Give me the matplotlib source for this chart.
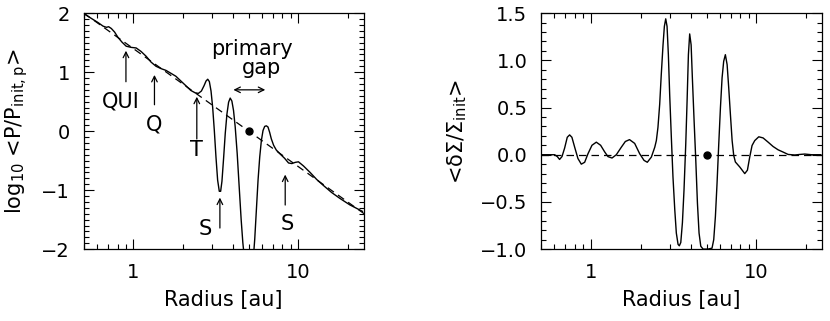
import matplotlib
matplotlib.use('Agg')
import matplotlib.pyplot as plt
from matplotlib.ticker import LogLocator, FixedLocator, MultipleLocator, FuncFormatter

# Left panel: azimuthally averaged pressure (log10)
r_p = [0.507, 0.556, 0.610, 0.654, 0.685, 0.707, 0.734, 0.768, 0.805, 0.851,
       0.903, 0.968, 1.038, 1.112, 1.192, 1.278, 1.369, 1.468, 1.573, 1.687,
       1.807, 1.937, 2.077, 2.225, 2.363, 2.475, 2.580, 2.677, 2.753, 2.818,
       2.883, 2.951, 3.020, 3.090, 3.162, 3.236, 3.312, 3.375, 3.437, 3.517,
       3.599, 3.685, 3.771, 3.857, 3.948, 4.040, 4.136, 4.252, 4.371, 4.494,
       4.600, 4.665, 4.795, 5.05, 5.26, 5.356, 5.432, 5.559, 5.689, 5.823,
       5.958, 6.097, 6.240, 6.386, 6.535, 6.688, 6.844, 7.07, 7.336, 7.757,
       8.236, 8.708, 9.118, 9.548, 10.0, 10.72, 11.76, 12.90, 14.15, 15.88,
       17.82, 20.48, 24.41]
logP = [1.98, 1.91, 1.84, 1.78, 1.76, 1.77, 1.74, 1.68, 1.59, 1.51,
        1.44, 1.42, 1.41, 1.35, 1.27, 1.17, 1.10, 1.06, 1.03, 0.98,
        0.93, 0.85, 0.77, 0.69, 0.65, 0.64, 0.68, 0.77, 0.85, 0.88,
        0.84, 0.68, 0.40, 0.01, -0.44, -0.83, -1.02, -1.02, -0.85, -0.46,
        -0.04, 0.29, 0.49, 0.56, 0.51, 0.35, 0.07, -0.38, -0.94, -1.50,
        -1.89, -2.06, -2.56, -3.0, -2.56, -2.06, -1.83, -1.33, -0.83, -0.44,
        -0.16, 0.01, 0.08, 0.09, 0.07, -0.02, -0.13, -0.24, -0.32, -0.39,
        -0.46, -0.54, -0.55, -0.53, -0.52, -0.59, -0.70, -0.82, -0.92, -1.04,
        -1.14, -1.25, -1.36]
# initial pressure profile (dashed), two end points
r_init = [0.5, 25.0]
logP_init = [2.0, -1.40]

# Right panel: surface density perturbation
r_s = [0.50, 0.603, 0.626, 0.646, 0.668, 0.693, 0.719, 0.743, 0.767, 0.797,
       0.834, 0.874, 0.916, 0.959, 1.014, 1.077, 1.144, 1.21, 1.267, 1.34,
       1.423, 1.526, 1.613, 1.71, 1.837, 1.97, 2.093, 2.19, 2.317, 2.43,
       2.484, 2.54, 2.602, 2.66, 2.726, 2.777, 2.83, 2.883, 2.936, 2.99,
       3.06, 3.13, 3.21, 3.28, 3.36, 3.42, 3.49, 3.57, 3.65, 3.74,
       3.81, 3.88, 3.95, 4.03, 4.10, 4.20, 4.30, 4.40, 4.50, 4.61,
       4.76, 5.10, 5.39, 5.52, 5.65, 5.78, 5.92, 6.06, 6.20, 6.34,
       6.49, 6.65, 6.80, 6.96, 7.13, 7.29, 7.46, 7.93, 8.50, 8.82,
       9.11, 9.41, 9.77, 10.33, 10.97, 11.77, 12.61, 13.52, 14.50, 15.54,
       17.06, 18.29, 19.60, 21.51, 24.5]
dsig = [0.00, 0.00, -0.02, -0.05, -0.02, 0.07, 0.185, 0.21, 0.185, 0.08,
        -0.04, -0.10, -0.08, 0.01, 0.10, 0.133, 0.10, 0.03, -0.02, -0.035,
        0.00, 0.08, 0.14, 0.16, 0.12, 0.01, -0.06, -0.08, -0.025, 0.08,
        0.15, 0.29, 0.535, 0.85, 1.164, 1.36, 1.44, 1.36, 1.06, 0.64,
        0.185, -0.234, -0.584, -0.83, -0.95, -0.965, -0.93, -0.72, -0.374, 0.115,
        0.57, 1.06, 1.28, 1.164, 0.815, 0.36, -0.06, -0.514, -0.83, -0.97,
        -1.00, -1.00, -0.99, -0.90, -0.654, -0.304, 0.115, 0.50, 0.815, 0.99,
        1.06, 0.955, 0.71, 0.43, 0.15, -0.007, -0.077, -0.13, -0.20, -0.164,
        -0.024, 0.098, 0.15, 0.19, 0.178, 0.133, 0.087, 0.052, 0.028, 0.003,
        -0.003, 0.003, 0.007, 0.00, 0.00]

r_planet = 5.0

fig = plt.figure(figsize=(8.3, 3.21), dpi=100)
ax1 = fig.add_axes([0.101, 0.224, 0.337, 0.735])
ax2 = fig.add_axes([0.652, 0.224, 0.338, 0.735])

fmt = FuncFormatter(lambda v, p: '%g' % v)
for ax in (ax1, ax2):
    ax.set_xscale('log')
    ax.set_xlim(0.5, 24.8)
    ax.xaxis.set_major_locator(FixedLocator([1, 10]))
    ax.xaxis.set_major_formatter(fmt)
    ax.xaxis.set_minor_locator(LogLocator(base=10, subs=range(2, 10)))
    ax.xaxis.set_minor_formatter(FuncFormatter(lambda v, p: ''))
    ax.tick_params(which='both', direction='in', top=True, right=True,
                   labelsize=14, width=0.8)
    ax.tick_params(which='major', length=7, pad=10)
    ax.tick_params(which='minor', length=3.5)
    for s in ax.spines.values():
        s.set_linewidth(0.9)
    ax.set_xlabel('Radius [au]', fontsize=15, labelpad=6)

# left panel
ax1.plot(r_init, logP_init, color='black', lw=0.9, ls=(0, (6, 4)))
ax1.plot(r_p, logP, color='black', lw=1.0)
ax1.plot([r_planet], [0], 'o', color='black', ms=5)
ax1.set_ylim(-2, 2)
ax1.yaxis.set_major_locator(MultipleLocator(1))
ax1.yaxis.set_minor_locator(MultipleLocator(0.1))
ax1.set_ylabel(r'log$_{10}$ <P/P$_{\rm init,p}$>', fontsize=15, labelpad=8)

arr = dict(arrowstyle='->', color='black', lw=0.9, mutation_scale=10)
marks = [('QUI', 0.90, 1.41, 0.79, 0.84, 0.51),
         ('Q', 1.34, 1.00, 0.40, 1.34, 0.12),
         ('T', 2.42, 0.63, -0.18, 2.42, -0.32),
         ('S', 3.34, -1.08, -1.69, 2.74, -1.66),
         ('S', 8.31, -0.69, -1.30, 8.5, -1.58)]
for lab, xa, ytop, ybot, xt, yt in marks:
    ax1.annotate('', xy=(xa, ytop), xytext=(xa, ybot), arrowprops=arr)
    ax1.text(xt, yt, lab, fontsize=15, ha='center', va='center')
ax1.text(5.24, 1.40, 'primary', fontsize=15, ha='center', va='center')
ax1.text(5.93, 1.07, 'gap', fontsize=15, ha='center', va='center')
ax1.annotate('', xy=(3.88, 0.70), xytext=(6.54, 0.70),
             arrowprops=dict(arrowstyle='<->', color='black', lw=0.9,
                             mutation_scale=10))

# right panel
ax2.plot([0.5, 25.0], [0, 0], color='black', lw=0.9, ls=(0, (6, 4)))
ax2.plot(r_s, dsig, color='black', lw=1.0)
ax2.plot([r_planet], [0], 'o', color='black', ms=5)
ax2.set_ylim(-1.0, 1.5)
ax2.yaxis.set_major_locator(MultipleLocator(0.5))
ax2.yaxis.set_minor_locator(MultipleLocator(0.1))
ax2.yaxis.set_major_formatter(FuncFormatter(lambda v, p: ('%.1f' % v).replace('-', '\u2212')))
ax2.set_ylabel(r'<δΣ/Σ$_{\rm init}$>', fontsize=15, labelpad=8)

fig.savefig('out.png', dpi=100)
